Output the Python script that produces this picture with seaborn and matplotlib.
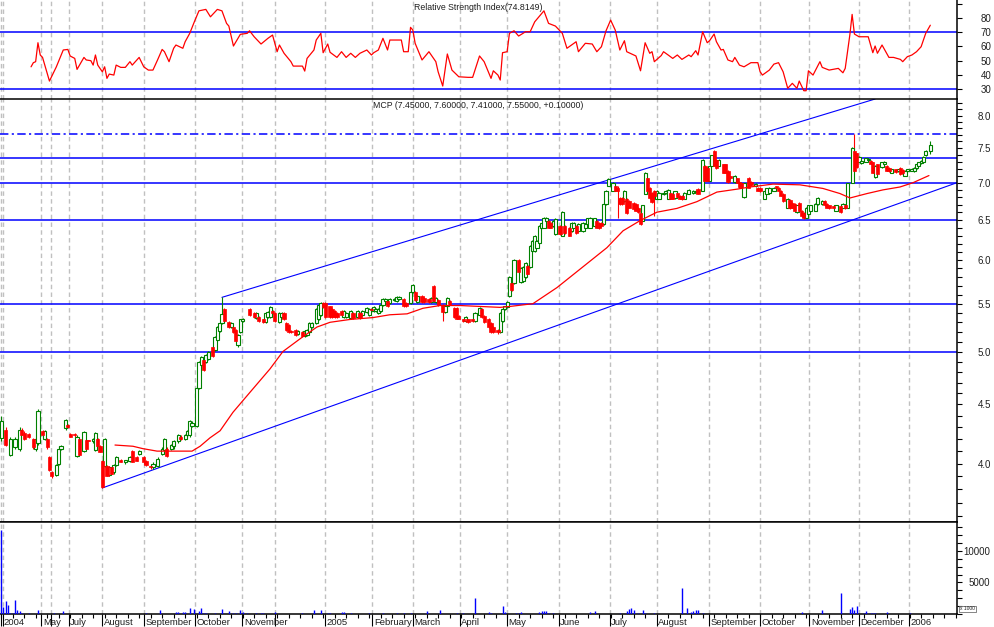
import numpy as np
import pandas as pd
import seaborn as sns
import matplotlib.pyplot as plt
from matplotlib.ticker import FixedLocator, FixedFormatter, NullFormatter, MultipleLocator

sns.set_style("white")
plt.rcParams['font.family'] = ['Liberation Sans', 'DejaVu Sans']

GREEN = '#008000'
RED = '#ff0000'
BLUE = '#0000ff'
GRID = '#c0c0c0'
TXT = '#202020'

# x axis = trading session index
month_pos = [0.1, 0.9, 17.5, 21.5, 29.4, 44.0, 62.2, 84.4, 104.8, 119.2, 140.9, 161.4,
             178.9, 199.4, 219.8, 242.4, 264.6, 285.0, 307.6, 329.8, 351.4, 372.8, 394.6]
month_lab = ['2004', '', 'May', '', 'July', 'August', 'September', 'October', 'November', '',
             '2005', 'February', 'March', 'April', 'May', 'June', 'July', 'August',
             'September', 'October', 'November', 'December', '2006']

# daily candles (MCP)
sess = [0, 2, 4, 6, 8, 9, 10, 12, 14, 15,
        16, 18, 19, 20, 21, 22, 24, 25, 26, 28,
        29, 30, 32, 33, 34, 36, 37, 38, 40, 41,
        42, 43, 44, 45, 46, 47, 48, 49, 50, 52,
        54, 56, 57, 59, 60, 62, 63, 65, 66, 68,
        70, 71, 72, 74, 75, 77, 78, 80, 81, 82,
        83, 85, 86, 87, 88, 89, 90, 92, 93, 94,
        95, 96, 97, 99, 100, 101, 102, 103, 104, 105,
        108, 110, 111, 112, 114, 115, 116, 117, 118, 119,
        121, 122, 123, 124, 125, 126, 128, 129, 131, 132,
        133, 134, 135, 137, 138, 139, 140, 141, 143, 144,
        145, 146, 148, 149, 150, 152, 153, 155, 156, 157,
        159, 160, 161, 162, 163, 164, 165, 166, 167, 168,
        169, 171, 172, 173, 175, 176, 178, 179, 180, 181,
        183, 184, 186, 187, 188, 189, 190, 192, 193, 194,
        195, 197, 198, 199, 201, 202, 203, 205, 206, 208,
        209, 210, 212, 213, 214, 216, 217, 218, 219, 220,
        221, 222, 223, 225, 226, 227, 228, 229, 230, 231,
        232, 233, 234, 235, 236, 237, 238, 239, 240, 241,
        243, 244, 245, 247, 248, 249, 250, 251, 253, 254,
        255, 256, 258, 259, 260, 261, 262, 263, 264, 266,
        267, 268, 269, 270, 271, 272, 273, 275, 276, 277,
        278, 279, 280, 281, 282, 283, 284, 285, 286, 288,
        289, 290, 291, 292, 293, 294, 295, 296, 297, 299,
        301, 302, 303, 305, 306, 307, 308, 309, 310, 311,
        312, 314, 315, 316, 317, 319, 320, 321, 322, 323,
        325, 326, 328, 329, 330, 332, 333, 334, 336, 337,
        338, 339, 340, 342, 343, 344, 345, 346, 347, 348,
        349, 350, 351, 352, 354, 355, 357, 358, 359, 360,
        362, 363, 365, 366, 367, 368, 370, 371, 372, 373,
        374, 376, 377, 378, 379, 380, 381, 383, 384, 385,
        386, 387, 389, 390, 391, 392, 393, 394, 396, 397,
        398, 399, 400, 401, 402, 404]

opn = [4.21, 4.28, 4.07, 4.13, 4.12, 4.28, 4.25, 4.24, 4.20, 4.12,
       4.17, 4.27, 4.20, 4.20, 4.05, 3.93, 3.91, 4.00, 4.12, 4.29,
       4.32, 4.24, 4.24, 4.06, 4.20, 4.10, 4.19, 4.19, 4.18, 4.11,
       4.20, 4.14, 4.02, 3.98, 3.98, 3.91, 3.97, 3.93, 3.99, 4.03,
       4.01, 4.02, 4.10, 4.05, 4.08, 4.05, 4.02, 3.98, 3.97, 3.98,
       4.08, 4.11, 4.12, 4.12, 4.14, 4.18, 4.22, 4.20, 4.23, 4.23,
       4.31, 4.31, 4.65, 4.87, 4.92, 4.90, 4.93, 5.05, 5.02, 5.12,
       5.21, 5.29, 5.44, 5.30, 5.25, 5.25, 5.22, 5.07, 5.20, 5.31,
       5.44, 5.40, 5.35, 5.36, 5.33, 5.30, 5.36, 5.36, 5.42, 5.40,
       5.30, 5.36, 5.40, 5.29, 5.27, 5.21, 5.22, 5.18, 5.20, 5.16,
       5.17, 5.20, 5.25, 5.29, 5.33, 5.38, 5.51, 5.51, 5.47, 5.44,
       5.42, 5.40, 5.42, 5.36, 5.36, 5.35, 5.40, 5.36, 5.40, 5.38,
       5.41, 5.38, 5.44, 5.42, 5.42, 5.40, 5.42, 5.49, 5.53, 5.53,
       5.51, 5.54, 5.53, 5.55, 5.55, 5.51, 5.51, 5.63, 5.63, 5.52,
       5.59, 5.56, 5.55, 5.52, 5.70, 5.52, 5.54, 5.49, 5.41, 5.47,
       5.53, 5.45, 5.45, 5.37, 5.33, 5.31, 5.33, 5.33, 5.31, 5.38,
       5.44, 5.37, 5.34, 5.29, 5.25, 5.22, 5.20, 5.31, 5.44, 5.46,
       5.58, 5.73, 5.73, 6.00, 5.74, 5.76, 5.80, 5.93, 5.92, 6.11,
       6.11, 6.15, 6.21, 6.40, 6.40, 6.49, 6.49, 6.46, 6.42, 6.32,
       6.42, 6.30, 6.42, 6.40, 6.36, 6.40, 6.42, 6.36, 6.36, 6.40,
       6.45, 6.40, 6.42, 6.49, 6.46, 6.46, 6.45, 6.71, 6.96, 6.89,
       6.96, 6.92, 6.79, 6.79, 6.75, 6.78, 6.75, 6.72, 6.71, 6.66,
       6.59, 6.49, 6.85, 7.06, 6.93, 6.86, 6.89, 6.78, 6.78, 6.84,
       6.86, 6.78, 6.86, 6.85, 6.79, 6.86, 6.82, 6.82, 6.78, 6.85,
       6.86, 6.87, 6.91, 6.89, 7.24, 7.21, 7.03, 7.24, 7.46, 7.33,
       7.24, 7.26, 7.26, 7.17, 7.09, 7.01, 7.06, 7.01, 6.99, 6.80,
       7.07, 7.01, 6.95, 6.93, 6.93, 6.78, 6.85, 6.86, 6.89, 6.95,
       6.93, 6.89, 6.85, 6.66, 6.76, 6.72, 6.71, 6.60, 6.72, 6.62,
       6.59, 6.53, 6.58, 6.62, 6.62, 6.71, 6.71, 6.75, 6.71, 6.69,
       6.68, 6.62, 6.68, 6.66, 6.69, 6.66, 7.00, 7.45, 7.42, 7.30,
       7.28, 7.30, 7.33, 7.31, 7.29, 7.08, 7.26, 7.22, 7.27, 7.24,
       7.21, 7.14, 7.19, 7.16, 7.21, 7.18, 7.10, 7.16, 7.17, 7.16,
       7.21, 7.24, 7.28, 7.30, 7.39, 7.45]

hi = [4.40, 4.30, 4.22, 4.22, 4.30, 4.29, 4.27, 4.25, 4.21, 4.21,
      4.46, 4.28, 4.28, 4.21, 4.06, 3.94, 4.00, 4.14, 4.15, 4.37,
      4.33, 4.25, 4.25, 4.23, 4.21, 4.27, 4.20, 4.19, 4.21, 4.26,
      4.21, 4.15, 4.03, 4.21, 3.99, 3.98, 3.98, 4.00, 4.06, 4.04,
      4.03, 4.06, 4.11, 4.06, 4.11, 4.06, 4.03, 3.99, 4.01, 4.05,
      4.13, 4.21, 4.13, 4.16, 4.19, 4.24, 4.23, 4.24, 4.28, 4.36,
      4.35, 4.66, 4.91, 4.96, 4.94, 4.98, 5.01, 5.06, 5.16, 5.26,
      5.30, 5.57, 5.45, 5.31, 5.30, 5.26, 5.23, 5.18, 5.34, 5.35,
      5.45, 5.41, 5.41, 5.37, 5.34, 5.41, 5.42, 5.47, 5.43, 5.41,
      5.41, 5.41, 5.41, 5.30, 5.28, 5.22, 5.23, 5.22, 5.21, 5.22,
      5.23, 5.30, 5.30, 5.45, 5.50, 5.52, 5.52, 5.52, 5.48, 5.45,
      5.43, 5.41, 5.43, 5.43, 5.41, 5.43, 5.41, 5.43, 5.41, 5.43,
      5.46, 5.45, 5.45, 5.47, 5.45, 5.45, 5.50, 5.56, 5.56, 5.54,
      5.56, 5.56, 5.58, 5.58, 5.56, 5.52, 5.64, 5.72, 5.64, 5.60,
      5.60, 5.57, 5.56, 5.57, 5.71, 5.57, 5.55, 5.50, 5.48, 5.57,
      5.54, 5.46, 5.46, 5.38, 5.34, 5.37, 5.34, 5.34, 5.41, 5.46,
      5.45, 5.38, 5.35, 5.30, 5.26, 5.23, 5.41, 5.45, 5.48, 5.53,
      5.81, 5.74, 6.01, 6.01, 5.92, 5.93, 5.98, 5.94, 6.18, 6.24,
      6.31, 6.24, 6.43, 6.47, 6.54, 6.54, 6.50, 6.47, 6.50, 6.52,
      6.43, 6.61, 6.43, 6.41, 6.47, 6.47, 6.43, 6.46, 6.47, 6.46,
      6.53, 6.54, 6.53, 6.50, 6.47, 6.47, 6.72, 6.90, 7.07, 7.01,
      6.97, 6.95, 6.80, 6.80, 6.90, 6.79, 6.76, 6.73, 6.72, 6.67,
      6.60, 6.70, 7.15, 7.07, 6.94, 6.87, 6.90, 6.90, 6.87, 6.87,
      6.90, 6.91, 6.87, 6.86, 6.89, 6.87, 6.83, 6.83, 6.87, 6.91,
      6.90, 6.90, 6.92, 7.34, 7.25, 7.22, 7.25, 7.40, 7.47, 7.34,
      7.34, 7.27, 7.27, 7.18, 7.10, 7.11, 7.07, 7.02, 7.00, 7.00,
      7.08, 7.02, 6.99, 6.94, 6.94, 6.90, 6.93, 6.94, 6.94, 6.96,
      6.94, 6.90, 6.86, 6.79, 6.77, 6.73, 6.72, 6.70, 6.73, 6.63,
      6.60, 6.67, 6.70, 6.70, 6.72, 6.80, 6.76, 6.76, 6.72, 6.70,
      6.69, 6.70, 6.69, 6.72, 6.70, 7.00, 7.51, 7.72, 7.43, 7.38,
      7.32, 7.36, 7.35, 7.32, 7.30, 7.25, 7.27, 7.30, 7.31, 7.25,
      7.22, 7.20, 7.20, 7.20, 7.22, 7.19, 7.18, 7.20, 7.21, 7.22,
      7.28, 7.30, 7.32, 7.38, 7.47, 7.60]

lo = [4.18, 4.14, 4.06, 4.12, 4.10, 4.23, 4.19, 4.21, 4.12, 4.10,
      4.15, 4.22, 4.19, 4.12, 3.94, 3.89, 3.90, 3.99, 4.11, 4.28,
      4.29, 4.22, 4.22, 4.05, 4.07, 4.09, 4.12, 4.18, 4.17, 4.10,
      4.14, 4.09, 3.81, 3.97, 3.90, 3.90, 3.92, 3.92, 3.98, 4.01,
      4.00, 4.01, 4.01, 4.02, 4.07, 4.00, 3.98, 3.96, 3.96, 3.97,
      4.07, 4.10, 4.05, 4.11, 4.12, 4.17, 4.19, 4.19, 4.22, 4.22,
      4.30, 4.30, 4.64, 4.86, 4.81, 4.89, 4.92, 4.95, 5.01, 5.11,
      5.20, 5.28, 5.30, 5.24, 5.24, 5.19, 5.10, 5.05, 5.19, 5.30,
      5.37, 5.35, 5.34, 5.30, 5.29, 5.29, 5.35, 5.35, 5.39, 5.30,
      5.29, 5.35, 5.32, 5.21, 5.19, 5.19, 5.16, 5.17, 5.15, 5.15,
      5.16, 5.19, 5.24, 5.28, 5.32, 5.37, 5.45, 5.35, 5.35, 5.35,
      5.35, 5.35, 5.37, 5.35, 5.35, 5.34, 5.34, 5.35, 5.34, 5.37,
      5.40, 5.37, 5.42, 5.41, 5.41, 5.39, 5.41, 5.48, 5.52, 5.46,
      5.50, 5.53, 5.52, 5.54, 5.46, 5.46, 5.50, 5.62, 5.53, 5.51,
      5.51, 5.51, 5.51, 5.51, 5.52, 5.51, 5.48, 5.31, 5.40, 5.46,
      5.49, 5.35, 5.33, 5.33, 5.30, 5.30, 5.29, 5.30, 5.30, 5.37,
      5.35, 5.29, 5.24, 5.19, 5.19, 5.18, 5.19, 5.30, 5.43, 5.45,
      5.57, 5.64, 5.72, 5.85, 5.73, 5.75, 5.79, 5.83, 5.91, 6.10,
      6.10, 6.14, 6.20, 6.39, 6.39, 6.48, 6.39, 6.39, 6.41, 6.31,
      6.31, 6.29, 6.32, 6.29, 6.35, 6.39, 6.32, 6.35, 6.35, 6.39,
      6.44, 6.39, 6.41, 6.39, 6.38, 6.41, 6.44, 6.70, 6.95, 6.88,
      6.88, 6.52, 6.70, 6.70, 6.74, 6.58, 6.65, 6.63, 6.61, 6.59,
      6.44, 6.48, 6.84, 6.88, 6.78, 6.72, 6.55, 6.77, 6.77, 6.83,
      6.85, 6.77, 6.77, 6.77, 6.78, 6.79, 6.77, 6.76, 6.77, 6.84,
      6.85, 6.86, 6.84, 6.88, 7.02, 7.02, 7.02, 7.23, 7.23, 7.20,
      7.23, 7.13, 7.13, 7.00, 7.05, 7.00, 6.99, 6.93, 6.93, 6.79,
      6.92, 6.96, 6.94, 6.88, 6.87, 6.77, 6.84, 6.85, 6.88, 6.91,
      6.88, 6.81, 6.74, 6.65, 6.64, 6.65, 6.61, 6.59, 6.61, 6.54,
      6.51, 6.52, 6.57, 6.61, 6.61, 6.70, 6.70, 6.68, 6.65, 6.64,
      6.64, 6.61, 6.59, 6.65, 6.64, 6.65, 6.99, 7.15, 7.21, 7.29,
      7.27, 7.29, 7.32, 7.26, 7.13, 7.07, 7.11, 7.21, 7.26, 7.16,
      7.15, 7.13, 7.14, 7.15, 7.11, 7.13, 7.09, 7.15, 7.16, 7.15,
      7.20, 7.23, 7.27, 7.29, 7.38, 7.41]

cls = [4.35, 4.15, 4.20, 4.20, 4.28, 4.23, 4.20, 4.22, 4.13, 4.20,
       4.44, 4.23, 4.27, 4.13, 3.95, 3.90, 3.99, 4.12, 4.14, 4.36,
       4.30, 4.22, 4.23, 4.22, 4.07, 4.26, 4.12, 4.18, 4.20, 4.25,
       4.14, 4.09, 3.82, 4.20, 3.90, 3.97, 3.92, 3.99, 4.05, 4.01,
       4.03, 4.05, 4.01, 4.02, 4.10, 4.01, 3.99, 3.97, 4.00, 4.04,
       4.12, 4.20, 4.06, 4.15, 4.18, 4.23, 4.20, 4.23, 4.27, 4.35,
       4.34, 4.65, 4.90, 4.95, 4.82, 4.97, 5.00, 4.96, 5.15, 5.25,
       5.29, 5.39, 5.31, 5.25, 5.29, 5.20, 5.11, 5.17, 5.33, 5.34,
       5.38, 5.36, 5.40, 5.31, 5.30, 5.40, 5.41, 5.46, 5.40, 5.31,
       5.40, 5.40, 5.33, 5.22, 5.20, 5.20, 5.17, 5.21, 5.16, 5.21,
       5.22, 5.29, 5.29, 5.44, 5.49, 5.51, 5.46, 5.36, 5.36, 5.36,
       5.36, 5.36, 5.38, 5.42, 5.40, 5.42, 5.35, 5.42, 5.35, 5.42,
       5.45, 5.44, 5.43, 5.46, 5.44, 5.44, 5.49, 5.55, 5.55, 5.47,
       5.55, 5.55, 5.57, 5.57, 5.47, 5.47, 5.63, 5.71, 5.54, 5.59,
       5.52, 5.52, 5.52, 5.56, 5.53, 5.56, 5.49, 5.41, 5.47, 5.56,
       5.50, 5.36, 5.34, 5.34, 5.31, 5.36, 5.30, 5.31, 5.40, 5.45,
       5.36, 5.30, 5.25, 5.20, 5.20, 5.20, 5.40, 5.44, 5.47, 5.52,
       5.80, 5.65, 6.00, 5.86, 5.91, 5.92, 5.97, 5.84, 6.17, 6.23,
       6.30, 6.23, 6.42, 6.46, 6.53, 6.53, 6.40, 6.40, 6.49, 6.51,
       6.32, 6.60, 6.33, 6.30, 6.46, 6.46, 6.33, 6.45, 6.46, 6.45,
       6.52, 6.53, 6.52, 6.40, 6.39, 6.42, 6.71, 6.89, 7.05, 7.00,
       6.89, 6.88, 6.71, 6.71, 6.89, 6.59, 6.66, 6.64, 6.62, 6.60,
       6.45, 6.69, 7.14, 6.89, 6.79, 6.73, 6.82, 6.89, 6.86, 6.86,
       6.89, 6.90, 6.78, 6.78, 6.88, 6.80, 6.78, 6.77, 6.86, 6.90,
       6.89, 6.89, 6.85, 7.33, 7.03, 7.03, 7.24, 7.39, 7.24, 7.21,
       7.33, 7.14, 7.14, 7.01, 7.06, 7.10, 7.00, 6.94, 6.94, 6.99,
       6.93, 6.97, 6.98, 6.89, 6.88, 6.89, 6.92, 6.93, 6.93, 6.92,
       6.89, 6.82, 6.75, 6.78, 6.65, 6.66, 6.62, 6.69, 6.62, 6.55,
       6.52, 6.66, 6.69, 6.69, 6.71, 6.79, 6.75, 6.69, 6.66, 6.65,
       6.65, 6.69, 6.60, 6.71, 6.65, 6.99, 7.50, 7.17, 7.22, 7.37,
       7.31, 7.35, 7.34, 7.27, 7.14, 7.24, 7.12, 7.29, 7.30, 7.17,
       7.16, 7.19, 7.15, 7.19, 7.12, 7.14, 7.17, 7.19, 7.20, 7.21,
       7.27, 7.29, 7.31, 7.37, 7.46, 7.55]

# moving average (red line)
ma_s = [49.5, 57.3, 61.7, 67.8, 72.1, 77.8, 83.0, 86.5, 90.8, 95.2,
        100.8, 108.2, 116.9, 122.5, 131.2, 137.3, 143.0, 151.7, 161.7, 169.0,
        176.5, 183.4, 190.8, 199.5, 208.2, 216.9, 221.2, 231.2, 241.7, 253.0,
        263.4, 270.4, 277.8, 285.1, 293.8, 302.5, 311.2, 319.9, 325.6, 335.6,
        347.3, 357.3, 364.7, 369.1, 376.5, 383.4, 390.8, 396.5, 403.4]
ma_v = [4.15, 4.14, 4.12, 4.10, 4.10, 4.10, 4.10, 4.14, 4.21, 4.27,
        4.43, 4.61, 4.83, 5.00, 5.15, 5.25, 5.30, 5.33, 5.35, 5.38,
        5.39, 5.45, 5.48, 5.48, 5.47, 5.46, 5.47, 5.50, 5.68, 5.92,
        6.15, 6.36, 6.49, 6.60, 6.65, 6.74, 6.87, 6.91, 6.94, 6.98,
        6.97, 6.92, 6.85, 6.79, 6.85, 6.90, 6.94, 7.00, 7.10]

# trend channel anchors (session, price)
chan_up_s = [96, 380]
chan_up_p = [5.57, 8.27]
chan_lo_s = [44, 415.6]
chan_lo_p = [3.81, 7.00]

# horizontal support / resistance levels
levels = [7.72, 7.35, 7.00, 6.50, 5.50, 5.00]
level_dash = [True, False, False, False, False, False]

# RSI
rsi_s = [13, 14, 15, 16, 17, 18, 21, 24, 27, 29,
         30, 32, 33, 36, 37, 39, 40, 41, 42, 44,
         45, 46, 47, 49, 50, 52, 54, 56, 57, 60,
         62, 64, 66, 68, 70, 71, 73, 75, 76, 79,
         80, 82, 84, 86, 89, 91, 94, 96, 98, 99,
         101, 104, 107, 108, 110, 113, 116, 118, 120, 121,
         123, 126, 127, 131, 132, 133, 136, 137, 139, 140,
         142, 143, 146, 148, 150, 152, 154, 156, 159, 161,
         162, 164, 166, 168, 169, 174, 175, 177, 178, 179,
         180, 183, 186, 189, 190, 192, 194, 196, 199, 203,
         205, 208, 210, 213, 214, 216, 217, 218, 220, 221,
         223, 225, 228, 230, 232, 236, 238, 241, 244, 246,
         250, 251, 254, 257, 259, 261, 263, 265, 267, 269,
         271, 272, 276, 278, 280, 282, 283, 284, 287, 288,
         290, 292, 294, 296, 299, 300, 302, 303, 305, 307,
         308, 310, 311, 313, 314, 316, 318, 319, 321, 323,
         326, 329, 330, 331, 334, 336, 338, 340, 342, 344,
         346, 347, 349, 350, 351, 353, 356, 357, 360, 364,
         366, 367, 369, 370, 371, 373, 377, 379, 380, 381,
         383, 386, 388, 391, 392, 394, 396, 398, 400, 402,
         404]
rsi_v = [45.6, 48.5, 49.2, 62.5, 53.9, 52.2, 35.6, 45.6, 57.4, 57.8,
         53.2, 51.5, 43.8, 52.2, 50.4, 49.9, 46.8, 53.9, 46.8, 42.1,
         45.6, 37.5, 40.5, 39.8, 46.8, 45.2, 45.2, 49.2, 46.8, 52.2,
         45.6, 43.3, 43.3, 50.4, 57.8, 56.2, 49.2, 58.6, 60.9, 58.6,
         63.2, 69.1, 77.2, 84.9, 85.9, 80.7, 85.9, 84.9, 76.1, 74.2,
         60.2, 68.4, 69.1, 70.9, 66.7, 61.6, 65.6, 67.9, 56.2, 60.9,
         55.1, 49.2, 46.1, 46.1, 42.6, 51.5, 57.4, 64.4, 69.1, 55.5,
         61.6, 55.8, 52.2, 56.2, 52.2, 55.1, 52.2, 55.1, 57.4, 53.9,
         55.5, 57.4, 65.6, 57.4, 64.4, 64.4, 56.2, 56.2, 73.3, 71.4,
         62.1, 50.4, 56.2, 49.2, 42.1, 32.1, 54.6, 43.3, 38.6, 38.2,
         38.2, 53.2, 49.2, 37.5, 42.8, 39.8, 36.3, 55.5, 56.2, 69.1,
         70.9, 67.2, 70.2, 70.2, 77.2, 84.9, 76.1, 74.2, 69.1, 58.6,
         63.2, 56.2, 62.1, 61.6, 56.2, 59.7, 70.9, 78.4, 71.4, 57.4,
         63.9, 56.2, 53.2, 42.8, 62.5, 55.1, 56.2, 49.2, 53.5, 56.2,
         53.9, 51.5, 53.9, 50.8, 53.9, 52.7, 56.9, 53.9, 70.2, 62.5,
         63.9, 68.6, 63.2, 57.4, 57.8, 50.4, 49.2, 52.2, 46.8, 45.6,
         48.5, 48.5, 42.1, 39.8, 43.3, 47.5, 48.5, 42.1, 30.5, 34.0,
         30.5, 35.6, 28.8, 28.8, 42.8, 39.8, 49.2, 45.2, 43.3, 44.5,
         41.4, 44.5, 67.9, 82.4, 68.6, 66.7, 66.7, 55.5, 60.2, 55.1,
         60.9, 52.2, 52.2, 50.8, 49.2, 52.7, 53.9, 56.2, 59.7, 69.1,
         74.8]

# volume (x1000 shares)
vol_s = [0, 1, 2, 3, 4, 5, 6, 7, 8, 9,
         12, 16, 23, 27, 63, 69, 76, 77, 79, 80,
         82, 84, 86, 87, 88, 89, 93, 96, 99, 101,
         102, 104, 105, 107, 111, 113, 114, 119, 131, 136,
         139, 142, 143, 148, 149, 152, 160, 166, 172, 175,
         178, 185, 191, 198, 201, 206, 212, 213, 218, 219,
         224, 225, 226, 234, 235, 236, 237, 238, 240, 256,
         258, 269, 272, 273, 274, 275, 277, 279, 280, 284,
         296, 298, 300, 301, 302, 303, 305, 348, 357, 365,
         369, 370, 371, 372, 375, 376, 378, 379, 380, 385,
         395]
vol = [13300, 1150, 2050, 1500, 150, 150, 2200, 600, 400, 200,
       200, 700, 200, 400, 200, 650, 250, 300, 250, 250,
       1000, 800, 500, 1000, 200, 200, 200, 800, 450, 200,
       200, 700, 350, 200, 200, 200, 200, 350, 200, 700,
       700, 200, 200, 300, 300, 200, 200, 200, 200, 200,
       200, 400, 600, 200, 200, 2530, 350, 200, 1200, 300,
       200, 200, 350, 300, 400, 400, 400, 200, 200, 300,
       450, 200, 400, 800, 1000, 700, 200, 700, 200, 200,
       4100, 1000, 300, 500, 700, 700, 200, 300, 600, 3300,
       800, 1100, 700, 1200, 200, 500, 200, 200, 200, 250,
       200]

price_ticks = [4.0, 4.5, 5.0, 5.5, 6.0, 6.5, 7.0, 7.5, 8.0]
rsi_ticks = [30, 40, 50, 60, 70, 80, 90]

# figure layout in pixels
W, H = 994, 627
RIGHT = 957

fig = plt.figure(figsize=(W / 100, H / 100), dpi=100)


def panel(top, bottom):
    return fig.add_axes([0, 1 - bottom / H, RIGHT / W, (bottom - top) / H])


ax_rsi = panel(0, 99)
ax_p = panel(99, 522)
ax_v = panel(522, 614)
ax_p.set_yscale('log')

for ax in (ax_rsi, ax_p, ax_v):
    ax.set_xlim(-0.5, 415.6)
    ax.set_facecolor('white')
    ax.spines['left'].set_visible(False)
    for side in ('top', 'right', 'bottom'):
        ax.spines[side].set_color('black')
        ax.spines[side].set_linewidth(1.1)
    ax.yaxis.tick_right()
    ax.tick_params(axis='y', which='both', direction='out', length=3.6, width=0.8,
                   color='black', labelsize=7, labelcolor=TXT)
    ax.tick_params(axis='x', which='both', bottom=False, labelbottom=False)
    for m in month_pos:
        ax.axvline(m, color=GRID, lw=1, ls=(0, (3.2, 2.4)), zorder=0)
ax_rsi.spines['top'].set_visible(False)
ax_rsi.spines['bottom'].set_visible(False)

# RSI panel
sns.lineplot(x=rsi_s, y=rsi_v, ax=ax_rsi, color=RED, lw=0.9, estimator=None, zorder=3)
for lv in (70, 30):
    ax_rsi.axhline(lv, color=BLUE, lw=1.1, zorder=2)
ax_rsi.set_ylim(23, 92.5)
ax_rsi.set_yticks(rsi_ticks, labels=[str(t) for t in rsi_ticks[:-1]] + [''])
ax_rsi.tick_params(axis='y', pad=13.5)
ax_rsi.text(0.5, 1 - 7 / 99, 'Relative Strength Index(74.8149)', transform=ax_rsi.transAxes,
            ha='center', va='center', fontsize=6.3, color=TXT)

# price panel
for lv, dash in zip(levels, level_dash):
    ax_p.axhline(lv, color=BLUE, lw=1.1, zorder=2,
                 ls=(0, (5.5, 2.2, 1.4, 2.2)) if dash else '-')
ax_p.plot(chan_up_s, chan_up_p, color=BLUE, lw=0.8, zorder=2)
ax_p.plot(chan_lo_s, chan_lo_p, color=BLUE, lw=0.8, zorder=2)

df = pd.DataFrame({'s': sess, 'o': opn, 'h': hi, 'l': lo, 'c': cls})
up = df['c'] >= df['o']
ax_p.vlines(df['s'], df['l'], df['h'], colors=np.where(up, GREEN, RED), lw=0.8, zorder=3)
u, d = df[up], df[~up]
ax_p.bar(u['s'], u['c'] - u['o'], bottom=u['o'], width=1.4, facecolor='white',
         edgecolor=GREEN, lw=0.8, zorder=4)
ax_p.bar(d['s'], d['o'] - d['c'], bottom=d['c'], width=1.4, facecolor=RED,
         edgecolor=RED, lw=0.5, zorder=4)

sns.lineplot(x=ma_s, y=ma_v, ax=ax_p, color=RED, lw=0.9, estimator=None, zorder=5)

ax_p.set_ylim(3.56, 8.27)
ax_p.yaxis.set_major_locator(FixedLocator(price_ticks))
ax_p.yaxis.set_major_formatter(FixedFormatter([f'{t:.1f}' for t in price_ticks]))
ax_p.yaxis.set_minor_locator(FixedLocator(np.arange(3.6, 8.25, 0.1)))
ax_p.yaxis.set_minor_formatter(NullFormatter())
ax_p.tick_params(axis='y', which='major', pad=11.5)
ax_p.text(0.5, 1 - 7 / 423, 'MCP (7.45000, 7.60000, 7.41000, 7.55000, +0.10000)',
          transform=ax_p.transAxes, ha='center', va='center', fontsize=6.3, color=TXT)

# volume panel
ax_v.vlines(vol_s, 0, vol, color=BLUE, lw=1.0, zorder=3)
ax_v.set_ylim(0, 14557)
ax_v.set_yticks([5000, 10000], labels=['5000', '10000'], ha='right')
ax_v.yaxis.set_minor_locator(MultipleLocator(1250))
ax_v.tick_params(axis='y', which='major', pad=20)

ax_v.set_xticks(month_pos)
ax_v.set_xticklabels([])
ax_v.xaxis.set_minor_locator(MultipleLocator(5))
ax_v.tick_params(axis='x', which='major', bottom=True, length=8.6, width=0.8,
                 direction='out', color='black')
ax_v.tick_params(axis='x', which='minor', bottom=True, length=3, width=0.8,
                 direction='out', color='black')
for m, lab in zip(month_pos, month_lab):
    ax_v.text(m + 0.7, -0.045, lab, transform=ax_v.get_xaxis_transform(),
              ha='left', va='top', fontsize=6.8, color=TXT)

fig.text(960 / W, 1 - 609 / H, 'x 1000', fontsize=3.5, color=TXT, ha='left', va='center',
         bbox=dict(facecolor='white', edgecolor='#555555', lw=0.5, pad=0.6))

fig.savefig('out.png', dpi=100)
